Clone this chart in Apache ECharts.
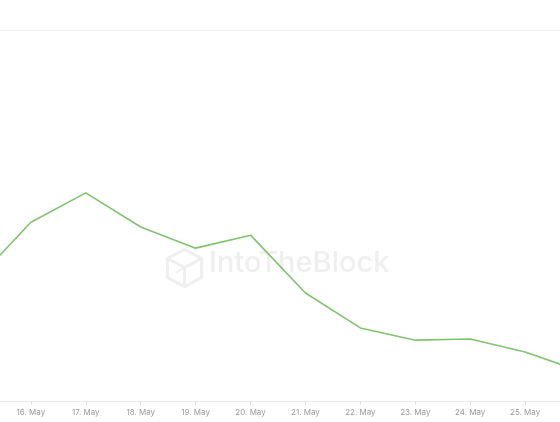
<!DOCTYPE html>
<html>
<head>
<meta charset="utf-8">
<script src="https://cdn.jsdelivr.net/npm/echarts@6/dist/echarts.min.js"></script>
<style>
  html, body { margin: 0; padding: 0; background: #fff; }
  #chart { width: 560px; height: 422px; }
</style>
</head>
<body>
<div id="chart"></div>
<script>
// dates on the x axis (first and last fall just outside the frame)
var days = ['15. May', '16. May', '17. May', '18. May', '19. May', '20. May',
            '21. May', '22. May', '23. May', '24. May', '25. May', '26. May'];
// series values (relative scale 0-100)
var values = [32.4, 48.2, 56.1, 46.9, 41.2, 44.7, 29.1, 19.7, 16.4, 16.7, 13.2, 8.1];

var chart = echarts.init(document.getElementById('chart'));

var option = {
  animation: false,
  grid: { left: -24, right: -20, top: 30, bottom: 21, containLabel: false, outerBoundsMode: 'none' },
  xAxis: {
    type: 'category',
    data: days,
    boundaryGap: false,
    axisLine: { lineStyle: { color: '#e8e8e8', width: 1 } },
    axisTick: { show: true, length: 4, lineStyle: { color: '#e2e2e2' } },
    axisLabel: { color: '#999999', fontSize: 8, fontFamily: 'Inter', margin: 8 },
    splitLine: { show: false }
  },
  yAxis: {
    type: 'value',
    min: 0,
    max: 100,
    interval: 100,
    axisLine: { show: false },
    axisTick: { show: false },
    axisLabel: { show: false },
    splitLine: { lineStyle: { color: '#f3f3f3', width: 1 } }
  },
  graphic: [
    {
      type: 'group',
      left: 165,
      top: 247,
      z: 0,
      children: [
        { type: 'polygon', shape: { points: [[18, 0], [35, 9], [35, 28], [18, 37], [1, 28], [1, 9]] },
          style: { fill: 'none', stroke: '#efefef', lineWidth: 3 } },
        { type: 'polyline', shape: { points: [[1, 9], [18, 18], [35, 9]] },
          style: { fill: 'none', stroke: '#efefef', lineWidth: 3 } },
        { type: 'line', shape: { x1: 18, y1: 18, x2: 18, y2: 37 },
          style: { stroke: '#efefef', lineWidth: 3 } },
        { type: 'line', shape: { x1: 9, y1: 23, x2: 27, y2: 13 },
          style: { stroke: '#efefef', lineWidth: 2 } }
      ]
    },
    {
      type: 'text',
      left: 209,
      top: 249,
      z: 0,
      style: {
        text: 'IntoTheBlock',
        fill: '#efefef',
        font: '500 29px Inter, "Noto Sans", sans-serif'
      }
    }
  ],
  series: [
    {
      type: 'line',
      data: values,
      symbol: 'none',
      z: 5,
      lineStyle: { color: '#7fc46c', width: 1.6 }
    }
  ]
};

chart.setOption(option);
</script>
</body>
</html>
